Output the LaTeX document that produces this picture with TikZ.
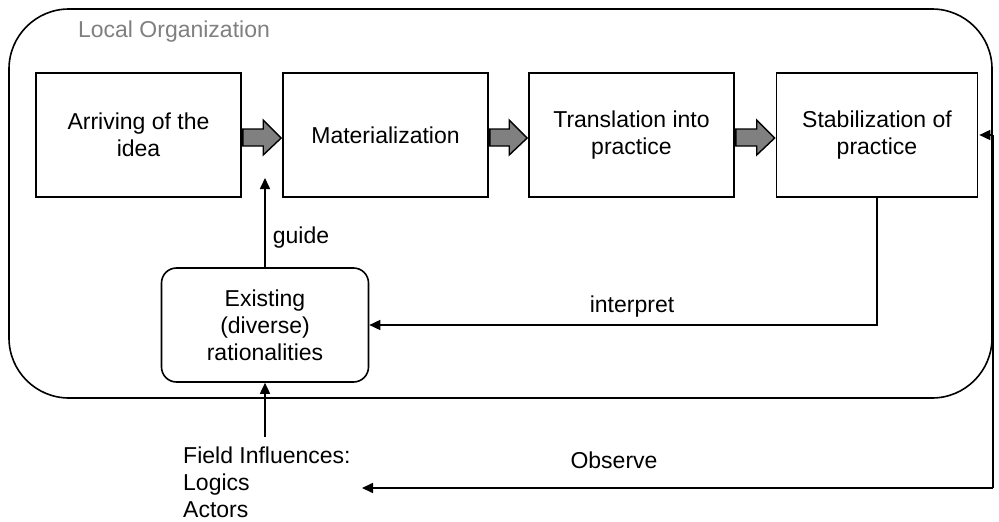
\documentclass[tikz,border=0pt]{standalone}
\usepackage{fontspec}
\setmainfont{Liberation Sans}
\usetikzlibrary{calc,arrows.meta}
\definecolor{lblgray}{RGB}{128,128,128}
\definecolor{fatgray}{RGB}{128,128,128}
\newcommand\fatarrow[2]{%
  \path ($(#1.east)+(1,0)$) coordinate (fa1) ($(#2.west)+(-1,0)$) coordinate (fa2);
  \draw[fatarr] ($(fa1)+(0,-6)$) -- ($(fa2)+(-18,-6)$) -- ($(fa2)+(-18,-15)$) -- ($(fa2)+(0,3)$)
     -- ($(fa2)+(-18,20)$) -- ($(fa2)+(-18,11)$) -- ($(fa1)+(0,11)$) -- cycle;}
\begin{document}
\begin{tikzpicture}[x=1pt,y=-1pt,
  every node/.style={font=\fontsize{23}{27}\selectfont},
  stagebox/.style={draw, line width=1.6pt, minimum width=205pt, minimum height=124pt, align=center, inner sep=0pt},
  ratbox/.style={draw, line width=1.6pt, rounded corners=15pt, minimum width=207pt, minimum height=114pt, align=center, inner sep=0pt},
  orgbox/.style={draw, line width=1.6pt, rounded corners=60pt, minimum width=983pt, minimum height=389pt, inner sep=0pt},
  arr/.style={line width=1.6pt, -{Triangle[length=11pt,width=10pt]}},
  fatarr/.style={draw, line width=1.4pt, fill=fatgray, line join=miter},
  lbl/.style={inner sep=0pt}]
\path[use as bounding box, fill=white] (0,0) rectangle (999,522);

\node[orgbox] (org) at (500.5,203.5) {};
\node[lbl, text=lblgray] (orglbl) at (174,32) {Local Organization};

\node[stagebox] (b1) at (138.5,135) {Arriving of the\\idea};
\node[stagebox] (b2) at (385.5,135) {Materialization};
\node[stagebox] (b3) at (631.5,135) {Translation into\\practice};
\node[stagebox, minimum width=201pt] (b4) at (877,135) {Stabilization of\\practice};

\fatarrow{b1}{b2}
\fatarrow{b2}{b3}
\fatarrow{b3}{b4}

\node[ratbox] (ex) at (265,325) {Existing\\(diverse)\\rationalities};

\node[lbl, anchor=north west, align=left] (fi) at (183,447) {Field Influences:\\Logics\\Actors};

\coordinate (R) at (993,488);
\coordinate (obsTip) at (362,488);
\coordinate (guideTip) at (265,178);
\coordinate (stabTip) at ($(b4.east)+(1,0)$);

\draw[arr] (ex.north) -- (guideTip);
\node[lbl] (guide) at (301,238) {guide};

\draw[arr] (b4.south) |- (ex.east);
\node[lbl] (interp) at (632,307) {interpret};

\draw[arr] ($(ex.south |- fi.north)+(0,-10)$) -- (ex.south);

\draw[arr] (R) -- (obsTip);
\node[lbl] (obs) at (614,460) {Observe};

\draw[line width=1.6pt] (R) -- (R |- stabTip);
\draw[arr] (R |- stabTip) -- (stabTip);
\end{tikzpicture}
\end{document}
